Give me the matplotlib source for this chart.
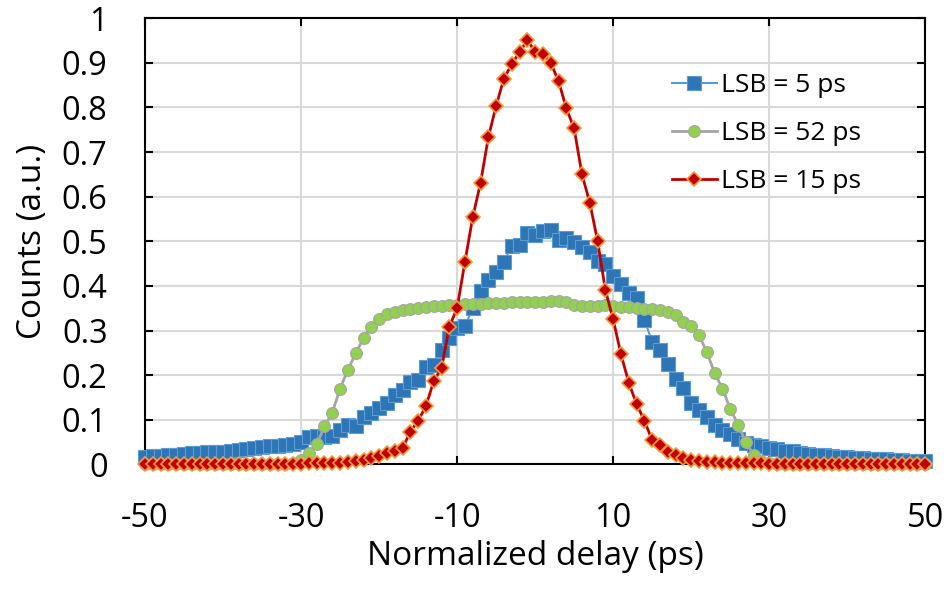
import numpy as np
import matplotlib.pyplot as plt

plt.rcParams["font.family"] = "Open Sans"
plt.rcParams["axes.unicode_minus"] = False

delay = list(range(-50, 51))

lsb5 = [0.017, 0.018, 0.019, 0.020, 0.022, 0.024, 0.025, 0.026, 0.027, 0.027,
        0.028, 0.030, 0.032, 0.034, 0.036, 0.038, 0.040, 0.042, 0.044, 0.046,
        0.049, 0.062, 0.063, 0.062, 0.064, 0.077, 0.088, 0.086, 0.107, 0.114,
        0.126, 0.137, 0.155, 0.167, 0.185, 0.190, 0.219, 0.223, 0.256, 0.284,
        0.305, 0.310, 0.350, 0.389, 0.413, 0.432, 0.454, 0.490, 0.492, 0.518,
        0.514,
        0.522, 0.525, 0.503, 0.507, 0.499, 0.488, 0.477, 0.456, 0.449, 0.422,
        0.404, 0.384, 0.372, 0.324, 0.275, 0.256, 0.224, 0.191, 0.172, 0.137,
        0.122, 0.107, 0.088, 0.077, 0.068, 0.056, 0.048, 0.044, 0.040, 0.037,
        0.034, 0.031, 0.029, 0.026, 0.023, 0.021, 0.020, 0.018, 0.017, 0.016,
        0.015, 0.014, 0.013, 0.012, 0.011, 0.010, 0.009, 0.008, 0.007, 0.007]

lsb52 = [0.001, 0.001, 0.001, 0.001, 0.001, 0.001, 0.001, 0.001, 0.001, 0.001,
         0.001, 0.001, 0.001, 0.001, 0.001, 0.001, 0.001, 0.001, 0.001, 0.004,
         0.010, 0.025, 0.045, 0.085, 0.116, 0.170, 0.212, 0.249, 0.283, 0.307,
         0.325, 0.336, 0.342, 0.346, 0.348, 0.350, 0.352, 0.354, 0.356, 0.357,
         0.358, 0.359, 0.360, 0.360, 0.361, 0.362, 0.362, 0.363, 0.364, 0.364,
         0.365,
         0.365, 0.366, 0.366, 0.364, 0.358, 0.356, 0.355, 0.356, 0.357, 0.355,
         0.353, 0.352, 0.350, 0.349, 0.348, 0.346, 0.341, 0.334, 0.320, 0.311,
         0.289, 0.252, 0.205, 0.170, 0.125, 0.089, 0.050, 0.022, 0.008, 0.003,
         0.001, 0.001, 0.001, 0.001, 0.001, 0.001, 0.001, 0.001, 0.001, 0.001,
         0.001, 0.001, 0.001, 0.001, 0.001, 0.001, 0.001, 0.001, 0.001, 0.001]

lsb15 = [0.001, 0.001, 0.001, 0.001, 0.001, 0.001, 0.001, 0.001, 0.001, 0.001,
         0.001, 0.001, 0.001, 0.001, 0.001, 0.001, 0.001, 0.001, 0.001, 0.001,
         0.001, 0.002, 0.002, 0.003, 0.003, 0.004, 0.005, 0.007, 0.010, 0.014,
         0.019, 0.025, 0.031, 0.036, 0.073, 0.098, 0.130, 0.187, 0.215, 0.309,
         0.350, 0.454, 0.554, 0.631, 0.733, 0.804, 0.865, 0.897, 0.924, 0.951,
         0.925,
         0.921, 0.900, 0.859, 0.798, 0.753, 0.650, 0.587, 0.501, 0.391, 0.325,
         0.247, 0.183, 0.135, 0.098, 0.054, 0.043, 0.028, 0.021, 0.015, 0.010,
         0.008, 0.006, 0.005, 0.004, 0.003, 0.003, 0.002, 0.002, 0.002, 0.001,
         0.001, 0.001, 0.001, 0.001, 0.001, 0.001, 0.001, 0.001, 0.001, 0.001,
         0.001, 0.001, 0.001, 0.001, 0.001, 0.001, 0.001, 0.001, 0.001, 0.001]

fig = plt.figure(figsize=(9.48, 5.9), dpi=100)
ax = fig.add_axes([0.153, 0.213, 0.823, 0.756])

ax.plot(delay, lsb5, color="#5B9BD5", lw=1.5, marker="s", ms=9.5,
        mfc="#2E75B6", mec="#5B9BD5", mew=0.8, label="LSB = 5 ps",
        clip_on=False, zorder=3)
ax.plot(delay, lsb52, color="#A5A5A5", lw=2.0, marker="o", ms=8.5,
        mfc="#92D050", mec="#A5A5A5", mew=0.8, label="LSB = 52 ps",
        clip_on=False, zorder=4)
ax.plot(delay, lsb15, color="#C00000", lw=2.0, marker="D", ms=7.5,
        mfc="#C00000", mec="#F59A3C", mew=1.2, label="LSB = 15 ps",
        clip_on=False, zorder=5)

ax.set_xlim(-50, 50)
ax.set_ylim(0, 1)
ax.set_xticks([-50, -30, -10, 10, 30, 50])
ax.set_yticks(np.arange(0, 1.01, 0.1))
ax.set_yticklabels(["0", "0.1", "0.2", "0.3", "0.4", "0.5", "0.6", "0.7", "0.8", "0.9", "1"])
ax.grid(True, color="#D9D9D9", lw=1.5)
ax.set_axisbelow(True)

for s in ax.spines.values():
    s.set_linewidth(1.5)
    s.set_color("black")

ax.tick_params(axis="both", direction="in", length=6, width=1.5,
               top=True, right=True, labelsize=23.5, pad=27)
ax.tick_params(axis="x", pad=27)

ax.set_xlabel("Normalized delay (ps)", fontsize=24, labelpad=4)
ax.set_ylabel("Counts (a.u.)", fontsize=24, labelpad=9)

ax.legend(loc="upper left", bbox_to_anchor=(0.645, 0.93), frameon=False,
          fontsize=19, handlelength=1.7, handletextpad=0.15, labelspacing=0.87)

fig.savefig("out.png", dpi=100)
